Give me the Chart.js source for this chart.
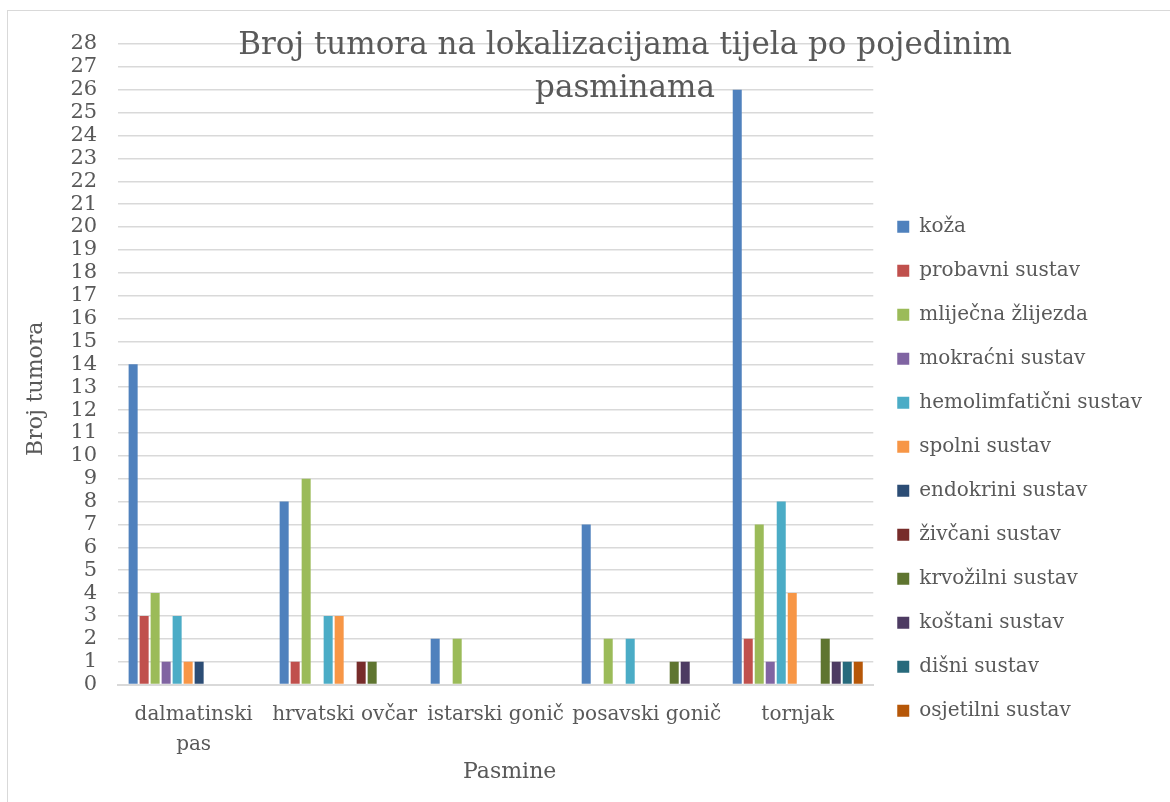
<!DOCTYPE html>
<html>
<head>
<meta charset="utf-8">
<script src="https://cdn.jsdelivr.net/npm/chart.js@4.4.1/dist/chart.umd.min.js"></script>
<style>
  body { margin: 0; background: #fff; }
  #wrap { position: absolute; left: 7px; top: 10px; width: 1162px; height: 791px;
          border-left: 1px solid #d9d9d9; border-top: 1px solid #d9d9d9; }
</style>
</head>
<body>
<div id="wrap"><canvas id="myChart"></canvas></div>
<script>
const pasmine = [["dalmatinski", "pas"], "hrvatski ovčar", "istarski gonič", "posavski gonič", "tornjak"];

const koza       = [14, 8, 2, 7, 26];
const probavni   = [3, 1, 0, 0, 2];
const mlijecna   = [4, 9, 2, 2, 7];
const mokracni   = [1, 0, 0, 0, 1];
const hemolimf   = [3, 3, 0, 2, 8];
const spolni     = [1, 3, 0, 0, 4];
const endokrini  = [1, 0, 0, 0, 0];
const zivcani    = [0, 1, 0, 0, 0];
const krvozilni  = [0, 1, 0, 1, 2];
const kostani    = [0, 0, 0, 1, 1];
const disni      = [0, 0, 0, 0, 1];
const osjetilni  = [0, 0, 0, 0, 1];

const serije = [
  ["koža", koza, "#4F81BD"],
  ["probavni sustav", probavni, "#C0504D"],
  ["mliječna žlijezda", mlijecna, "#9BBB59"],
  ["mokraćni sustav", mokracni, "#8064A2"],
  ["hemolimfatični sustav", hemolimf, "#4BACC6"],
  ["spolni sustav", spolni, "#F79646"],
  ["endokrini sustav", endokrini, "#2C4D75"],
  ["živčani sustav", zivcani, "#772C2A"],
  ["krvožilni sustav", krvozilni, "#5F7530"],
  ["koštani sustav", kostani, "#4D3B62"],
  ["dišni sustav", disni, "#276A7C"],
  ["osjetilni sustav", osjetilni, "#B65708"]
];

const font = "'DejaVu Serif', serif";
const gray = "#595959";

// naslov preko grafa, kao u Excelu
const naslov = {
  id: "naslov",
  afterDraw(chart) {
    const ctx = chart.ctx;
    ctx.save();
    ctx.fillStyle = gray;
    ctx.font = "31px " + font;
    ctx.textAlign = "center";
    ctx.textBaseline = "middle";
    ctx.fillText("Broj tumora na lokalizacijama tijela po pojedinim", 617, 35);
    ctx.fillText("pasminama", 617, 78);
    ctx.restore();
  }
};

new Chart("myChart", {
  type: "bar",
  data: {
    labels: pasmine,
    datasets: serije.map(s => ({
      label: s[0],
      data: s[1],
      backgroundColor: s[2],
      categoryPercentage: 0.874,
      barPercentage: 0.82
    }))
  },
  options: {
    responsive: true,
    maintainAspectRatio: false,
    animation: false,
    layout: {padding: {left: 15, top: 33, right: 18, bottom: 17}},
    plugins: {
      legend: {
        position: "right",
        title: {display: true, text: "", padding: {top: 94, bottom: 0}},
        labels: {
          boxWidth: 12, boxHeight: 12, padding: 24,
          color: gray, font: {family: font, size: 20}
        }
      },
      tooltip: {enabled: false}
    },
    scales: {
      x: {
        grid: {display: false, drawTicks: false},
        border: {color: "#d9d9d9", width: 2},
        ticks: {color: gray, font: {family: font, size: 20, lineHeight: 1.5}, padding: 15, maxRotation: 0, autoSkip: false},
        title: {display: true, text: "    Pasmine", color: gray, font: {family: font, size: 22}, padding: {top: -16, bottom: 0}}
      },
      y: {
        min: 0, max: 28,
        grid: {color: "#d9d9d9", lineWidth: 1.5, drawTicks: false},
        border: {display: false},
        ticks: {stepSize: 1, autoSkip: false, color: gray, font: {family: font, size: 21, lineHeight: 1}, padding: 21},
        title: {display: true, text: "Broj tumora       ", color: gray, font: {family: font, size: 22}, padding: 0}
      }
    }
  },
  plugins: [naslov]
});
</script>
</body>
</html>
